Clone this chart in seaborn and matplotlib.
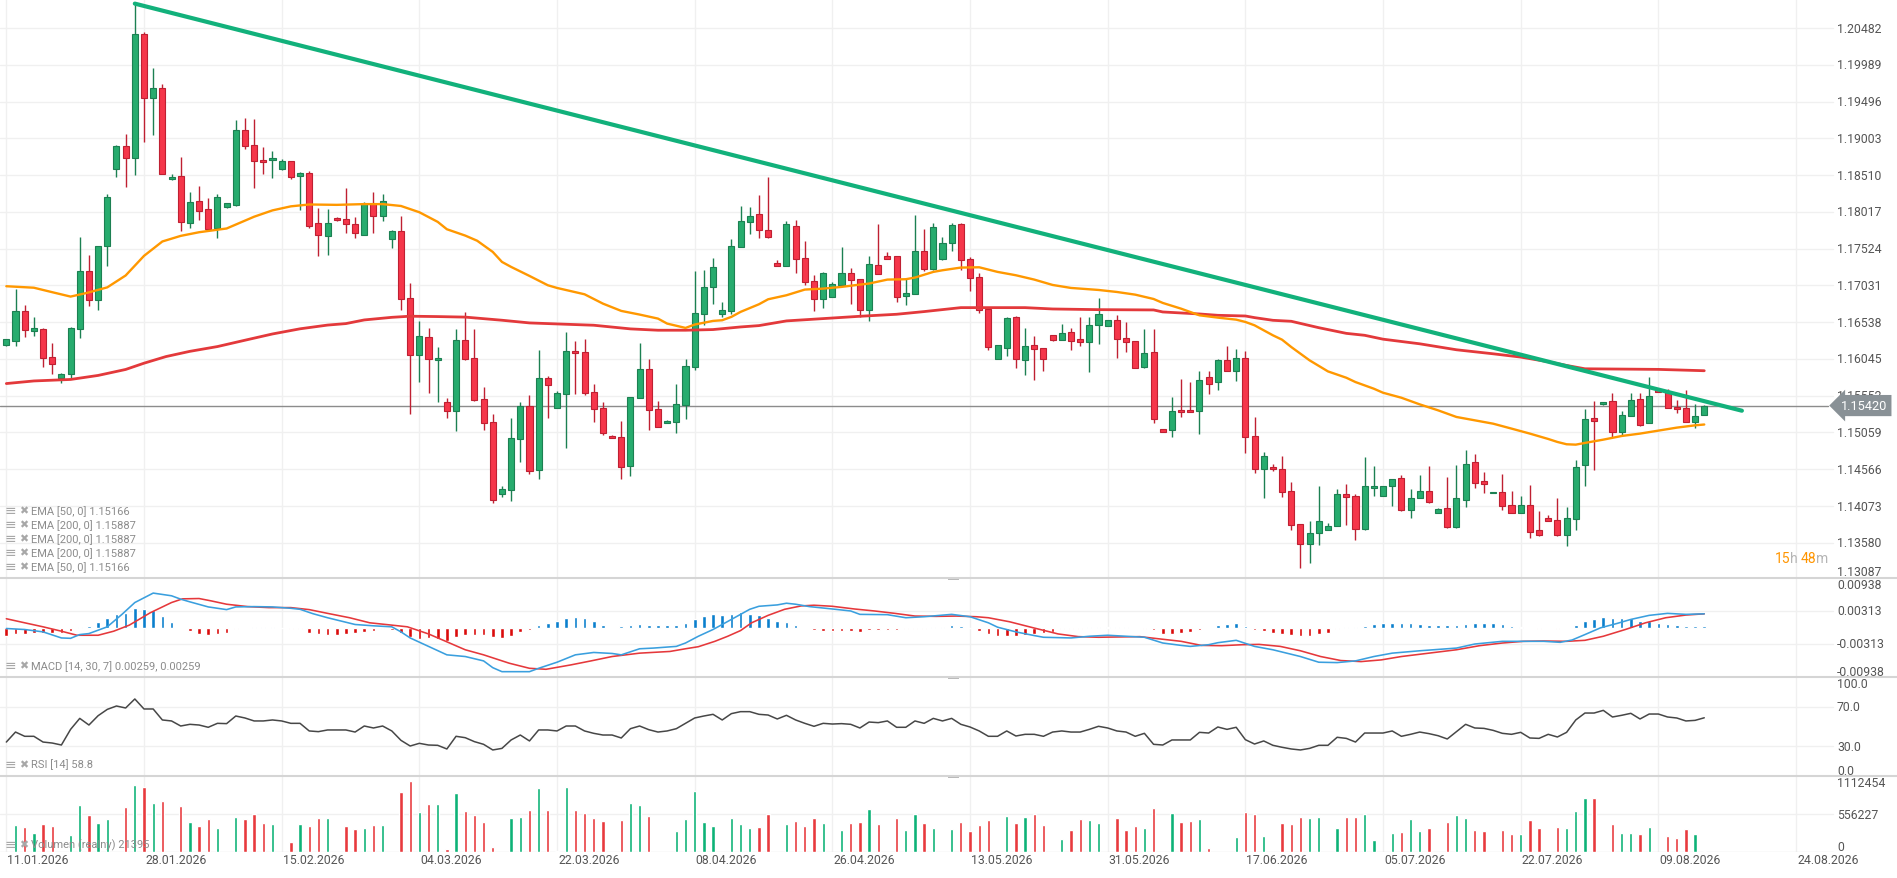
import numpy as np
import pandas as pd
import matplotlib
matplotlib.use("Agg")
import matplotlib.pyplot as plt
import seaborn as sns
from matplotlib.lines import Line2D
from matplotlib.patches import Rectangle

# ── data (one candle per trading session) ──
opens = [
    1.16231, 1.16286, 1.16692, 1.16420, 1.16449, 1.16077, 1.15790, 1.15844, 1.16449, 1.17223,
    1.16836, 1.17561, 1.18592, 1.18900, 1.18741, 1.20403, 1.19545, 1.19678, 1.18458, 1.18498,
    1.17873, 1.18161, 1.18057, 1.17804, 1.18076, 1.18106, 1.19113, 1.18920, 1.18716, 1.18711,
    1.18592, 1.18701, 1.18503, 1.18533, 1.17868, 1.17694, 1.17932, 1.17923, 1.17858, 1.17709,
    1.18116, 1.17962, 1.17655, 1.17764, 1.16861, 1.16097, 1.16340, 1.16033, 1.15467, 1.15348,
    1.16301, 1.16063, 1.15513, 1.15205, 1.14239, 1.14293, 1.14977, 1.15411, 1.14561, 1.15795,
    1.15393, 1.15580, 1.16157, 1.16144, 1.15607, 1.15393, 1.15017, 1.15003, 1.14615, 1.15527,
    1.15916, 1.15379, 1.15192, 1.15205, 1.15428, 1.15938, 1.16653, 1.17015, 1.16653, 1.16689,
    1.17552, 1.17887, 1.17994, 1.17780, 1.17328, 1.17297, 1.17833, 1.17404, 1.17096, 1.16850,
    1.16877, 1.17042, 1.17203, 1.17123, 1.16707, 1.17310, 1.17422, 1.17422, 1.16895, 1.16921,
    1.17498, 1.17252, 1.17386, 1.17596, 1.17860, 1.17386, 1.17145, 1.16719, 1.16048, 1.16196,
    1.16603, 1.16035, 1.16236, 1.16196, 1.16371, 1.16303, 1.16411, 1.16317, 1.16272, 1.16505,
    1.16491, 1.16572, 1.16330, 1.16290, 1.15936, 1.16142, 1.15104, 1.15095, 1.15364, 1.15364,
    1.15350, 1.15807, 1.15740, 1.16035, 1.15887, 1.16062, 1.15015, 1.14572, 1.14599, 1.14572,
    1.14277, 1.13834, 1.13565, 1.13718, 1.13753, 1.13807, 1.14237, 1.14214, 1.13767, 1.14317,
    1.14214, 1.14348, 1.14455, 1.14026, 1.14174, 1.14281, 1.13986, 1.14040, 1.13790, 1.14160,
    1.14669, 1.14406, 1.14245, 1.14267, 1.14093, 1.13986, 1.14093, 1.13750, 1.13906, 1.13884,
    1.13679, 1.13902, 1.14629, 1.15249, 1.15445, 1.15485, 1.15070, 1.15280, 1.15512, 1.15182,
    1.15632, 1.15601, 1.15405, 1.15392, 1.15204, 1.15298,
]
highs = [
    1.16316, 1.16980, 1.16772, 1.16608, 1.16464, 1.16256, 1.15859, 1.16474, 1.17685, 1.17432,
    1.17561, 1.18260, 1.18915, 1.19063, 1.20809, 1.20427, 1.19951, 1.19733, 1.18518, 1.18746,
    1.18290, 1.18369, 1.18205, 1.18250, 1.18141, 1.19252, 1.19282, 1.19267, 1.18890, 1.18835,
    1.18726, 1.18701, 1.18547, 1.18567, 1.18071, 1.18061, 1.17942, 1.18339, 1.17952, 1.18146,
    1.18290, 1.18260, 1.17774, 1.17957, 1.17069, 1.16549, 1.16464, 1.16211, 1.15517, 1.16449,
    1.16668, 1.16452, 1.15665, 1.15303, 1.14338, 1.15250, 1.15464, 1.15558, 1.16162, 1.15813,
    1.15616, 1.16403, 1.16282, 1.16309, 1.15715, 1.15469, 1.15021, 1.15209, 1.15540, 1.16264,
    1.16050, 1.15487, 1.15232, 1.15715, 1.16050, 1.17221, 1.17234, 1.17395, 1.16805, 1.17650,
    1.18102, 1.18079, 1.18240, 1.18490, 1.17377, 1.17891, 1.17905, 1.17623, 1.17176, 1.17207,
    1.17073, 1.17547, 1.17261, 1.17123, 1.17427, 1.17851, 1.17476, 1.17422, 1.17136, 1.17972,
    1.17784, 1.17865, 1.17677, 1.17874, 1.17874, 1.17417, 1.17203, 1.16719, 1.16232, 1.16612,
    1.16617, 1.16456, 1.16348, 1.16196, 1.16371, 1.16518, 1.16455, 1.16603, 1.16603, 1.16858,
    1.16572, 1.16639, 1.16545, 1.16290, 1.16442, 1.16442, 1.15104, 1.15538, 1.15771, 1.15731,
    1.15887, 1.15887, 1.16048, 1.16214, 1.16183, 1.16156, 1.15270, 1.14800, 1.14639, 1.14738,
    1.14389, 1.13834, 1.13874, 1.14335, 1.13852, 1.14304, 1.14362, 1.14228, 1.14724, 1.14612,
    1.14348, 1.14441, 1.14486, 1.14303, 1.14486, 1.14606, 1.14044, 1.14459, 1.14620, 1.14821,
    1.14767, 1.14526, 1.14267, 1.14499, 1.14281, 1.14214, 1.14352, 1.14004, 1.13946, 1.14178,
    1.14058, 1.14696, 1.15369, 1.15476, 1.15472, 1.15583, 1.15347, 1.15588, 1.15592, 1.15806,
    1.15641, 1.15646, 1.15490, 1.15624, 1.15445, 1.15432,
]
lows = [
    1.16216, 1.16216, 1.16335, 1.16355, 1.15939, 1.15839, 1.15725, 1.15790, 1.16321, 1.16757,
    1.16697, 1.17288, 1.18478, 1.18344, 1.18508, 1.18949, 1.19053, 1.18528, 1.18443, 1.17764,
    1.17804, 1.17903, 1.17764, 1.17665, 1.18071, 1.18091, 1.18865, 1.18334, 1.18518, 1.18468,
    1.18582, 1.18453, 1.18047, 1.17804, 1.17422, 1.17437, 1.17888, 1.17739, 1.17665, 1.17709,
    1.17729, 1.17888, 1.17536, 1.16707, 1.15304, 1.15740, 1.15586, 1.15467, 1.15254, 1.15081,
    1.16028, 1.15480, 1.15093, 1.14119, 1.14195, 1.14141, 1.14664, 1.14503, 1.14432, 1.15250,
    1.15384, 1.14852, 1.15576, 1.15562, 1.15196, 1.15026, 1.14986, 1.14432, 1.14476, 1.15527,
    1.15093, 1.15138, 1.15187, 1.15058, 1.15241, 1.15902, 1.16501, 1.16783, 1.16604, 1.16653,
    1.17552, 1.17722, 1.17672, 1.17668, 1.17297, 1.17297, 1.17199, 1.17042, 1.16689, 1.16725,
    1.16877, 1.17042, 1.16783, 1.16604, 1.16555, 1.17190, 1.17391, 1.16810, 1.16769, 1.16921,
    1.17225, 1.17234, 1.17368, 1.17494, 1.17234, 1.16961, 1.16661, 1.16165, 1.16048, 1.16085,
    1.15923, 1.15829, 1.15762, 1.15883, 1.16286, 1.16303, 1.16160, 1.16214, 1.15865, 1.16241,
    1.16491, 1.16057, 1.16133, 1.15922, 1.15922, 1.15185, 1.15069, 1.14997, 1.15266, 1.15337,
    1.15037, 1.15574, 1.15623, 1.15887, 1.15753, 1.14782, 1.14514, 1.14178, 1.14545, 1.14192,
    1.13753, 1.13243, 1.13306, 1.13552, 1.13753, 1.13807, 1.13820, 1.13619, 1.13753, 1.14214,
    1.14214, 1.14076, 1.14004, 1.13915, 1.14174, 1.14116, 1.13986, 1.13781, 1.13781, 1.14062,
    1.14317, 1.14245, 1.14245, 1.14018, 1.13973, 1.13986, 1.13647, 1.13665, 1.13866, 1.13665,
    1.13540, 1.13754, 1.14343, 1.14557, 1.15432, 1.15003, 1.15026, 1.15280, 1.15151, 1.15182,
    1.15597, 1.15392, 1.15325, 1.15204, 1.15119, 1.15298,
]
closes = [
    1.16306, 1.16692, 1.16435, 1.16454, 1.16058, 1.15978, 1.15849, 1.16464, 1.17223, 1.16836,
    1.17561, 1.18215, 1.18900, 1.18741, 1.20403, 1.19545, 1.19678, 1.18528, 1.18483, 1.17883,
    1.18151, 1.18032, 1.17789, 1.18215, 1.18131, 1.19118, 1.18895, 1.18696, 1.18681, 1.18741,
    1.18701, 1.18483, 1.18533, 1.17828, 1.17704, 1.17868, 1.17903, 1.17853, 1.17729, 1.18116,
    1.17962, 1.18161, 1.17764, 1.16851, 1.16097, 1.16350, 1.16043, 1.16063, 1.15348, 1.16301,
    1.16043, 1.15500, 1.15192, 1.14159, 1.14306, 1.14990, 1.15411, 1.14548, 1.15795, 1.15701,
    1.15589, 1.16157, 1.16130, 1.15589, 1.15375, 1.15053, 1.14990, 1.14601, 1.15540, 1.15916,
    1.15366, 1.15138, 1.15214, 1.15446, 1.15956, 1.16667, 1.17015, 1.17284, 1.16698, 1.17565,
    1.17900, 1.17963, 1.17780, 1.17681, 1.17297, 1.17860, 1.17386, 1.17078, 1.16854, 1.17194,
    1.17056, 1.17203, 1.17105, 1.16707, 1.17324, 1.17190, 1.17391, 1.16877, 1.16935, 1.17489,
    1.17252, 1.17811, 1.17605, 1.17847, 1.17377, 1.17136, 1.16697, 1.16209, 1.16232, 1.16599,
    1.16048, 1.16223, 1.16183, 1.16044, 1.16299, 1.16397, 1.16290, 1.16272, 1.16505, 1.16652,
    1.16572, 1.16312, 1.16272, 1.15922, 1.16129, 1.15239, 1.15069, 1.15350, 1.15337, 1.15337,
    1.15767, 1.15713, 1.16035, 1.15887, 1.16062, 1.15002, 1.14572, 1.14747, 1.14572, 1.14263,
    1.13820, 1.13565, 1.13713, 1.13870, 1.13807, 1.14232, 1.14192, 1.13767, 1.14335, 1.14348,
    1.14348, 1.14441, 1.14018, 1.14187, 1.14281, 1.14129, 1.14031, 1.13790, 1.14174, 1.14633,
    1.14388, 1.14374, 1.14267, 1.14080, 1.13986, 1.14084, 1.13719, 1.13679, 1.13866, 1.13679,
    1.13919, 1.14602, 1.15235, 1.15218, 1.15472, 1.15070, 1.15298, 1.15499, 1.15164, 1.15552,
    1.15597, 1.15392, 1.15378, 1.15204, 1.15284, 1.15420,
]
volumes = [
    0, 394000, 364000, 276000, 409000, 379000, 0, 246000, 689000, 541000,
    423000, 482000, 0, 660000, 984000, 955000, 719000, 748000, 0, 674000,
    438000, 379000, 482000, 349000, 0, 512000, 482000, 556000, 423000, 409000,
    0, 143000, 409000, 379000, 497000, 497000, 0, 379000, 335000, 349000,
    394000, 394000, 0, 881000, 1043000, 586000, 704000, 704000, 39000, 866000,
    600000, 541000, 438000, 69000, 0, 497000, 512000, 615000, 940000, 615000,
    10000, 955000, 615000, 571000, 497000, 453000, 0, 468000, 719000, 689000,
    527000, 0, 0, 305000, 482000, 896000, 438000, 379000, 0, 497000,
    409000, 349000, 364000, 556000, 0, 409000, 453000, 379000, 497000, 423000,
    0, 320000, 423000, 438000, 630000, 409000, 0, 497000, 320000, 556000,
    423000, 349000, 0, 335000, 438000, 305000, 394000, 468000, 0, 527000,
    423000, 512000, 556000, 394000, 0, 187000, 320000, 482000, 468000, 423000,
    0, 497000, 320000, 379000, 349000, 645000, 0, 571000, 438000, 453000,
    482000, 54000, 0, 0, 217000, 586000, 556000, 231000, 0, 423000,
    409000, 512000, 497000, 512000, 0, 349000, 512000, 512000, 556000, 172000,
    0, 276000, 290000, 482000, 305000, 349000, 0, 438000, 541000, 497000,
    320000, 305000, 0, 320000, 261000, 261000, 468000, 349000, 0, 364000,
    349000, 600000, 792000, 792000, 0, 409000, 276000, 276000, 261000, 364000,
    0, 231000, 202000, 335000, 261000, 21395,
]
rsi = [
    34.3, 44.4, 40.1, 40.1, 34.3, 33.3, 31.3, 47.1, 58.2, 51.5,
    60.9, 67.3, 70.7, 68.7, 77.8, 67.7, 67.7, 56.6, 55.6, 50.5,
    52.2, 51.5, 49.2, 53.2, 52.9, 60.6, 58.6, 55.6, 55.6, 56.6,
    55.6, 53.2, 53.2, 45.5, 44.8, 46.5, 46.5, 46.5, 44.4, 50.5,
    48.5, 50.5, 45.5, 36.0, 30.3, 33.0, 31.3, 31.0, 27.3, 40.1,
    38.7, 34.7, 32.0, 26.3, 27.9, 36.4, 41.4, 35.4, 46.5, 46.5,
    45.5, 50.5, 50.5, 45.5, 43.1, 41.4, 41.4, 38.4, 47.8, 50.5,
    46.8, 44.4, 45.5, 47.8, 53.2, 58.6, 60.6, 62.3, 56.6, 63.0,
    65.0, 65.0, 62.3, 61.6, 57.6, 61.3, 56.6, 53.2, 50.2, 53.2,
    52.5, 52.9, 52.2, 48.5, 54.5, 53.9, 55.6, 49.2, 49.2, 55.6,
    53.2, 58.2, 55.6, 58.2, 52.2, 49.5, 45.5, 40.1, 40.1, 45.5,
    40.4, 42.1, 42.1, 40.1, 44.4, 45.5, 44.4, 44.4, 47.1, 50.2,
    48.5, 45.5, 44.4, 40.1, 43.1, 32.0, 31.3, 36.4, 36.4, 36.4,
    44.1, 43.4, 49.5, 47.1, 49.2, 36.7, 32.3, 35.4, 31.0, 29.0,
    27.3, 26.3, 27.9, 31.0, 31.0, 39.1, 38.0, 34.3, 43.4, 43.4,
    43.4, 45.5, 40.1, 42.1, 44.4, 42.8, 40.7, 37.4, 44.8, 52.2,
    48.5, 48.1, 46.1, 43.1, 42.1, 44.1, 38.4, 38.0, 42.1, 39.4,
    44.1, 56.6, 63.6, 63.6, 66.3, 59.6, 61.3, 63.3, 57.6, 62.6,
    62.6, 59.6, 58.6, 55.6, 56.2, 58.8,
]
macd_hist = [
    -0.00160, -0.00128, -0.00128, -0.00109, -0.00109, -0.00102, -0.00096, -0.00064, 0.00013, 0.00032,
    0.00096, 0.00179, 0.00256, 0.00275, 0.00371, 0.00351, 0.00332, 0.00217, 0.00102, 0,
    -0.00064, -0.00128, -0.00141, -0.00128, -0.00109, -0.00019, 0, 0.00006, 0.00006, 0.00006,
    0, -0.00019, -0.00032, -0.00096, -0.00128, -0.00141, -0.00141, -0.00128, -0.00109, -0.00077,
    -0.00064, -0.00026, -0.00045, -0.00109, -0.00173, -0.00224, -0.00204, -0.00224, -0.00256, -0.00173,
    -0.00141, -0.00141, -0.00147, -0.00173, -0.00192, -0.00166, -0.00077, -0.00051, 0.00045, 0.00083,
    0.00128, 0.00173, 0.00192, 0.00173, 0.00128, 0.00051, 0, 0.00019, 0.00045, 0.00058,
    0.00051, 0.00051, 0.00051, 0.00051, 0.00077, 0.00160, 0.00224, 0.00256, 0.00243, 0.00256,
    0.00300, 0.00256, 0.00236, 0.00179, 0.00115, 0.00096, 0.00045, 0, -0.00051, -0.00064,
    -0.00064, -0.00064, -0.00064, -0.00077, -0.00045, -0.00051, -0.00045, -0.00051, -0.00026, -0.00026,
    -0.00019, 0.00006, 0.00013, 0.00038, 0.00026, 0, -0.00070, -0.00115, -0.00160, -0.00166,
    -0.00160, -0.00141, -0.00128, -0.00102, -0.00077, -0.00026, -0.00019, -0.00019, 0.00006, 0.00013,
    0.00013, 0.00013, 0.00006, 0, -0.00019, -0.00038, -0.00115, -0.00115, -0.00096, -0.00083,
    -0.00038, 0, 0.00051, 0.00064, 0.00083, 0.00019, -0.00045, -0.00070, -0.00102, -0.00115,
    -0.00147, -0.00160, -0.00160, -0.00115, -0.00102, -0.00032, 0.00006, 0.00006, 0.00032, 0.00064,
    0.00083, 0.00089, 0.00077, 0.00077, 0.00058, 0.00051, 0.00038, 0.00038, 0.00051, 0.00064,
    0.00077, 0.00077, 0.00077, 0.00064, 0.00026, 0.00013, 0, -0.00019, 0, -0.00019,
    0, 0.00051, 0.00121, 0.00160, 0.00192, 0.00173, 0.00173, 0.00173, 0.00115, 0.00121,
    0.00083, 0.00064, 0.00051, 0.00026, 0.00019, 0.00019,
]

# indicator lines, sampled along the candle index
macd_x = [0, 2, 4, 6, 7, 8, 9, 11, 12.6, 14,
          16, 18, 19, 20, 22, 24, 25, 27, 29, 31,
          32, 33.4, 35, 38, 40, 42, 43, 44, 46, 48,
          50, 52, 53, 54, 57, 58, 60, 62, 64, 66,
          67, 69, 70.5, 73, 74, 75.4, 77, 78, 80, 81,
          82, 84, 85, 86, 87.5, 90, 92, 93, 96, 98,
          100, 103, 105, 107, 108, 110, 112, 113, 116, 118,
          120, 122, 124, 126, 128, 129, 131, 132, 134, 136,
          138, 141, 143, 145, 147, 149, 151, 154, 158, 160,
          163, 165, 167.5, 169.3, 170.6, 172, 173.7, 175.5, 177, 179,
          181, 183, 185]
macd_line = [-0.00019, -0.00038, -0.00083, -0.00198, -0.00205, -0.00134, -0.00115, 0.00013, 0.00249, 0.00473,
             0.00652, 0.00601, 0.00537, 0.00486, 0.00390, 0.00339, 0.00390, 0.00396, 0.00390, 0.00364,
             0.00345, 0.00262, 0.00185, 0.00057, 0.00032, 0.00013, -0.00083, -0.00198, -0.00358, -0.00518,
             -0.00550, -0.00633, -0.00761, -0.00837, -0.00837, -0.00773, -0.00658, -0.00518, -0.00473, -0.00492,
             -0.00518, -0.00403, -0.00390, -0.00358, -0.00294, -0.00166, -0.00038, 0.00057, 0.00249, 0.00345,
             0.00402, 0.00428, 0.00460, 0.00441, 0.00396, 0.00351, 0.00313, 0.00249, 0.00243, 0.00185,
             0.00204, 0.00249, 0.00204, 0.00089, 0.00006, -0.00083, -0.00153, -0.00185, -0.00198, -0.00166,
             -0.00147, -0.00166, -0.00185, -0.00294, -0.00339, -0.00358, -0.00326, -0.00288, -0.00243, -0.00358,
             -0.00422, -0.00550, -0.00658, -0.00665, -0.00633, -0.00550, -0.00486, -0.00441, -0.00390, -0.00313,
             -0.00262, -0.00262, -0.00262, -0.00281, -0.00237, -0.00134, -0.00006, 0.00077, 0.00153, 0.00230,
             0.00268, 0.00249, 0.00259]
signal_x = [0, 2, 4, 6, 7.7, 10, 11.7, 13.4, 15.7, 18,
            19.2, 21, 22.3, 24, 26.3, 28.6, 31, 33, 35, 37.4,
            39.6, 42, 43.7, 46, 47.7, 50, 52, 54.8, 57, 58.8,
            61.5, 63.7, 66, 69, 72.3, 74, 75.4, 77.2, 78.6, 80,
            81.2, 83, 84.8, 86.6, 88, 90, 92.4, 94.6, 96.8, 99,
            101.3, 103.5, 105.7, 107, 109.3, 111.9, 114.6, 116.8, 119, 121.3,
            123.5, 125.7, 128, 130.2, 132.4, 134.7, 136.5, 138.8, 141, 143.2,
            145.4, 147.6, 149.8, 152, 155, 158, 160.5, 163, 165.3, 167.5,
            170, 172, 174, 176.4, 178.6, 180.8, 183, 185]
signal_line = [0.00166, 0.00089, 0.00013, -0.00070, -0.00147, -0.00147, -0.00070, 0.00045, 0.00281, 0.00473,
               0.00543, 0.00549, 0.00505, 0.00441, 0.00396, 0.00377, 0.00377, 0.00339, 0.00268, 0.00185,
               0.00089, 0.00045, 0.00013, -0.00122, -0.00249, -0.00422, -0.00518, -0.00677, -0.00773, -0.00792,
               -0.00709, -0.00633, -0.00550, -0.00486, -0.00454, -0.00403, -0.00364, -0.00262, -0.00166, -0.00058,
               0.00089, 0.00230, 0.00345, 0.00409, 0.00422, 0.00402, 0.00351, 0.00313, 0.00268, 0.00217,
               0.00211, 0.00217, 0.00204, 0.00185, 0.00109, -0.00006, -0.00122, -0.00173, -0.00185, -0.00179,
               -0.00173, -0.00217, -0.00262, -0.00339, -0.00345, -0.00326, -0.00320, -0.00358, -0.00441, -0.00550,
               -0.00626, -0.00646, -0.00614, -0.00550, -0.00486, -0.00422, -0.00345, -0.00294, -0.00262, -0.00256,
               -0.00262, -0.00243, -0.00166, -0.00038, 0.00089, 0.00185, 0.00236, 0.00259]
ema50_x = [0, 3, 5, 7, 8.8, 11, 13, 15, 17, 19,
           21, 24, 27, 29, 31, 33, 36, 39, 41, 43,
           45, 47, 48, 50, 51.3, 53, 54, 55, 57, 59,
           60, 63, 65, 67, 69, 71, 72, 74, 75, 77,
           78, 79, 80, 82, 83, 85, 87, 89, 91, 93,
           94, 96, 98, 99, 101, 102, 104, 106, 108, 110,
           112, 114, 116, 119, 121, 123, 125, 126, 128, 130,
           132, 134, 135, 136, 138, 139, 140, 142, 144, 146,
           147, 149, 150, 152, 154, 156, 158, 160, 162, 164,
           166, 168, 169, 170, 171, 172, 174, 176, 178, 180,
           182, 184, 185]
ema50 = [1.17020, 1.17000, 1.16940, 1.16881, 1.16931, 1.17005, 1.17164, 1.17427, 1.17620, 1.17695,
         1.17744, 1.17794, 1.17952, 1.18037, 1.18091, 1.18116, 1.18111, 1.18121, 1.18121, 1.18096,
         1.18012, 1.17883, 1.17784, 1.17699, 1.17630, 1.17480, 1.17346, 1.17279, 1.17158, 1.17033,
         1.16997, 1.16912, 1.16787, 1.16689, 1.16640, 1.16586, 1.16519, 1.16461, 1.16506, 1.16555,
         1.16564, 1.16609, 1.16676, 1.16778, 1.16845, 1.16899, 1.16975, 1.16988, 1.17011, 1.17042,
         1.17056, 1.17109, 1.17114, 1.17136, 1.17212, 1.17234, 1.17270, 1.17274, 1.17212, 1.17167,
         1.17109, 1.17037, 1.16997, 1.16970, 1.16943, 1.16907, 1.16849, 1.16796, 1.16719, 1.16630,
         1.16599, 1.16572, 1.16541, 1.16496, 1.16362, 1.16303, 1.16205, 1.16026, 1.15878, 1.15793,
         1.15735, 1.15646, 1.15592, 1.15525, 1.15436, 1.15356, 1.15267, 1.15222, 1.15177, 1.15111,
         1.15044, 1.14972, 1.14932, 1.14901, 1.14896, 1.14919, 1.14963, 1.15012, 1.15044, 1.15084,
         1.15124, 1.15155, 1.15166]
ema200_x = [0, 3, 7, 10, 13, 15, 17.4, 20, 23, 26,
            29, 32, 35, 37, 39, 42, 44, 47, 50, 54,
            57, 61, 64, 68, 71, 74, 77, 80, 82, 85,
            89, 93, 97, 100, 104, 108, 111, 114, 119, 125,
            126, 130, 132, 135, 136, 138, 140, 143, 146, 148,
            150, 154, 158, 162, 165, 168, 170, 172, 176, 180,
            185]
ema200 = [1.15715, 1.15750, 1.15770, 1.15824, 1.15904, 1.15988, 1.16077, 1.16147, 1.16211, 1.16296,
          1.16380, 1.16449, 1.16499, 1.16519, 1.16568, 1.16603, 1.16618, 1.16613, 1.16606, 1.16564,
          1.16528, 1.16510, 1.16497, 1.16448, 1.16430, 1.16430, 1.16439, 1.16474, 1.16492, 1.16555,
          1.16586, 1.16617, 1.16644, 1.16680, 1.16733, 1.16733, 1.16733, 1.16715, 1.16706, 1.16702,
          1.16675, 1.16648, 1.16630, 1.16621, 1.16599, 1.16563, 1.16550, 1.16464, 1.16388, 1.16362,
          1.16310, 1.16248, 1.16168, 1.16114, 1.16070, 1.16007, 1.15958, 1.15913, 1.15909, 1.15905,
          1.15887]
trend_x = [14, 189.1]
trend_y = [1.20809, 1.15351]
last_price = 1.15420

price_ticks = [1.20482, 1.19989, 1.19496, 1.19003, 1.18510, 1.18017, 1.17524, 1.17031,
               1.16538, 1.16045, 1.15552, 1.15059, 1.14566, 1.14073, 1.13580]
price_bottom_label = "1.13087"
date_labels = ["11.01.2026", "28.01.2026", "15.02.2026", "04.03.2026", "22.03.2026",
               "08.04.2026", "26.04.2026", "13.05.2026", "31.05.2026", "17.06.2026",
               "05.07.2026", "22.07.2026", "09.08.2026", "24.08.2026"]
ema_legend = ["EMA [50, 0] 1.15166", "EMA [200, 0] 1.15887", "EMA [200, 0] 1.15887",
              "EMA [200, 0] 1.15887", "EMA [50, 0] 1.15166"]

# ── colours ─────────────────────────────────────────────────
GREEN, GREEN_E = "#27AC6E", "#1C8052"
RED, RED_E = "#F5364A", "#BF2032"
VGREEN, VRED = "#0DB277", "#E83A3E"
GRID = "#F0F0F0"
LABEL = "#555555"

sns.set_theme(style="white")
plt.rcParams["font.family"] = ["Roboto", "DejaVu Sans"]

W, H = 1897, 879
fig = plt.figure(figsize=(W / 100, H / 100), dpi=100, facecolor="white")

def fx(px):
    return px / W

def fy(py):
    return 1 - py / H

def panel(top, bottom):
    a = fig.add_axes([0, 1 - bottom / H, 1, (bottom - top) / H])
    a.set_facecolor("white")
    for s in a.spines.values():
        s.set_visible(False)
    a.set_xticks([]); a.set_yticks([])
    return a

ax_p = panel(0, 579)
ax_m = panel(579, 678)
ax_r = panel(678, 777)
ax_v = panel(777, 853)
axes = [ax_p, ax_m, ax_r, ax_v]

X0, DX = 6.33, 9.178          # pixel position of candle 0 and candle spacing
XLIM = ((0 - X0) / DX, (W - X0) / DX)
LABEL_X = fx(1837)
GRID_END = fx(1833)

idx = np.arange(len(closes))
o, h, l, c = map(np.array, (opens, highs, lows, closes))
up = c >= o

for a in axes:
    a.set_xlim(*XLIM)
    for k in range(len(date_labels)):
        a.axvline(15 * k, color=GRID, lw=1, zorder=0)

# ── price panel ─────────────────────────────────────────────
ax_p.set_ylim(1.13108, 1.20871)
for p in price_ticks:
    ax_p.axhline(p, xmax=GRID_END, color=GRID, lw=1, zorder=0)
    ax_p.text(LABEL_X, p, f"{p:.5f}", transform=ax_p.get_yaxis_transform(),
              ha="left", va="center", fontsize=8.8, color=LABEL)
ax_p.text(LABEL_X, 6 / 579, price_bottom_label, transform=ax_p.transAxes,
          ha="left", va="center", fontsize=8.8, color=LABEL)

ax_p.axhline(last_price, xmax=fx(1828), color="#8C8C8C", lw=1, zorder=1)

ax_p.vlines(idx, l, h, colors=np.where(up, GREEN_E, RED_E), lw=1.0, zorder=2)
ax_p.bar(idx, np.maximum(np.abs(c - o), 0.00004), bottom=np.minimum(o, c), width=0.66,
         color=np.where(up, GREEN, RED), edgecolor=np.where(up, GREEN_E, RED_E),
         linewidth=0.8, zorder=3)

sns.lineplot(x=ema200_x, y=ema200, ax=ax_p, color="#E3393B", linewidth=2.0, zorder=4)
sns.lineplot(x=ema50_x, y=ema50, ax=ax_p, color="#FF9800", linewidth=1.7, zorder=4)
sns.lineplot(x=trend_x, y=trend_y, ax=ax_p, color="#12B17B", linewidth=3.0,
             solid_capstyle="round", zorder=5)

ax_p.text(fx(1841), last_price, f"{last_price:.5f}", transform=ax_p.get_yaxis_transform(),
          ha="left", va="center", fontsize=9.2, color="white", zorder=10,
          bbox=dict(boxstyle="larrow,pad=0.32", fc="#899196", ec="none"))

# countdown text
for s, xp, col in [("15", 1775, "#FF9500"), ("h", 1790, "#B5B5B5"),
                   ("48", 1801, "#FF9500"), ("m", 1816, "#B5B5B5")]:
    fig.text(fx(xp), fy(559), s, ha="left", va="center", fontsize=10, color=col)

# ── MACD panel ──────────────────────────────────────────────
ax_m.set_ylim(-0.00938, 0.00938)
for v in (0.00313, -0.00313):
    ax_m.axhline(v, xmax=GRID_END, color=GRID, lw=1, zorder=0)
hist = np.array(macd_hist)
ax_m.bar(idx, hist, width=0.4, color=np.where(hist >= 0, "#0A7FCD", "#DA0B0B"), zorder=2)
sns.lineplot(x=signal_x, y=signal_line, ax=ax_m, color="#E5383B", linewidth=1.15, zorder=3)
sns.lineplot(x=macd_x, y=macd_line, ax=ax_m, color="#3A9FDE", linewidth=1.15, zorder=3)
for s, yv in [("0.00938", (678 - 585.5) / 99), ("0.00313", (678 - 611.7) / 99),
              ("-0.00313", (678 - 644.3) / 99), ("-0.00938", (678 - 672.3) / 99)]:
    ax_m.text(LABEL_X, yv, s, transform=ax_m.transAxes, ha="left", va="center",
              fontsize=8.8, color=LABEL)

# ── RSI panel ───────────────────────────────────────────────
ax_r.set_ylim(0, 100)
for v in (70, 30):
    ax_r.axhline(v, xmax=GRID_END, color=GRID, lw=1, zorder=0)
sns.lineplot(x=idx, y=rsi, ax=ax_r, color="#474747", linewidth=1.1, zorder=3)
for s, yv in [("100.0", (777 - 684.3) / 99), ("70.0", 0.70),
              ("30.0", 0.30), ("0.0", (777 - 771.7) / 99)]:
    ax_r.text(LABEL_X, yv, s, transform=ax_r.transAxes, ha="left", va="center",
              fontsize=8.8, color=LABEL)

# ── volume panel ────────────────────────────────────────────
ax_v.set_ylim(0, 1122300)
ax_v.axhline(556227, xmax=GRID_END, color=GRID, lw=1, zorder=0)
ax_v.axhline(0, xmax=GRID_END, color="#E6E6E6", lw=1, zorder=0)
vol = np.array(volumes, dtype=float)
has = vol > 0
ax_v.bar(idx[has], vol[has], width=0.36, color=np.where(up, VGREEN, VRED)[has], zorder=2)
for s, yv in [("1112454", (853 - 783.7) / 76), ("556227", 556227 / 1122300),
              ("0", (853 - 847.3) / 76)]:
    ax_v.text(LABEL_X, yv, s, transform=ax_v.transAxes, ha="left", va="center",
              fontsize=8.8, color=LABEL)

for a in axes:
    a.set_xlabel(""); a.set_ylabel("")

# ── panel dividers and handles ──────────────────────────────
for yp in (579, 678, 777):
    fig.add_artist(Line2D([0, 1], [fy(yp), fy(yp)], transform=fig.transFigure,
                          color="#D5D5D5", lw=1.5))
    fig.add_artist(Rectangle((fx(948), fy(yp + 2)), fx(11), 3 / H, transform=fig.transFigure,
                             facecolor="#B9B9B9", edgecolor="none"))

# ── date labels ─────────────────────────────────────────────
for k, s in enumerate(date_labels):
    fig.text(fx(X0 + DX * 15 * k + 1), fy(861), s, ha="left", va="center",
             fontsize=8.8, color=LABEL)

# ── indicator legends ───────────────────────────────────────
def legend_row(ypx, s):
    fig.text(fx(5), fy(ypx), "\u2261", ha="left", va="center", fontsize=10,
             color="#A8A8A8", family=["DejaVu Sans"])
    fig.text(fx(19), fy(ypx), "\u2716", ha="left", va="center", fontsize=7.8,
             color="#A8A8A8", family=["DejaVu Sans"])
    fig.text(fx(31), fy(ypx), s, ha="left", va="center", fontsize=8.0, color="#8C8C8C")

for s, ypx in zip(ema_legend, [511.3, 525.3, 539.3, 553.3, 567.3]):
    legend_row(ypx, s)
legend_row(666.3, "MACD [14, 30, 7] 0.00259, 0.00259")
legend_row(765, "RSI [14] 58.8")
legend_row(845, "Volumen (realny) 21395")

fig.savefig("out.png", dpi=100, facecolor="white")
